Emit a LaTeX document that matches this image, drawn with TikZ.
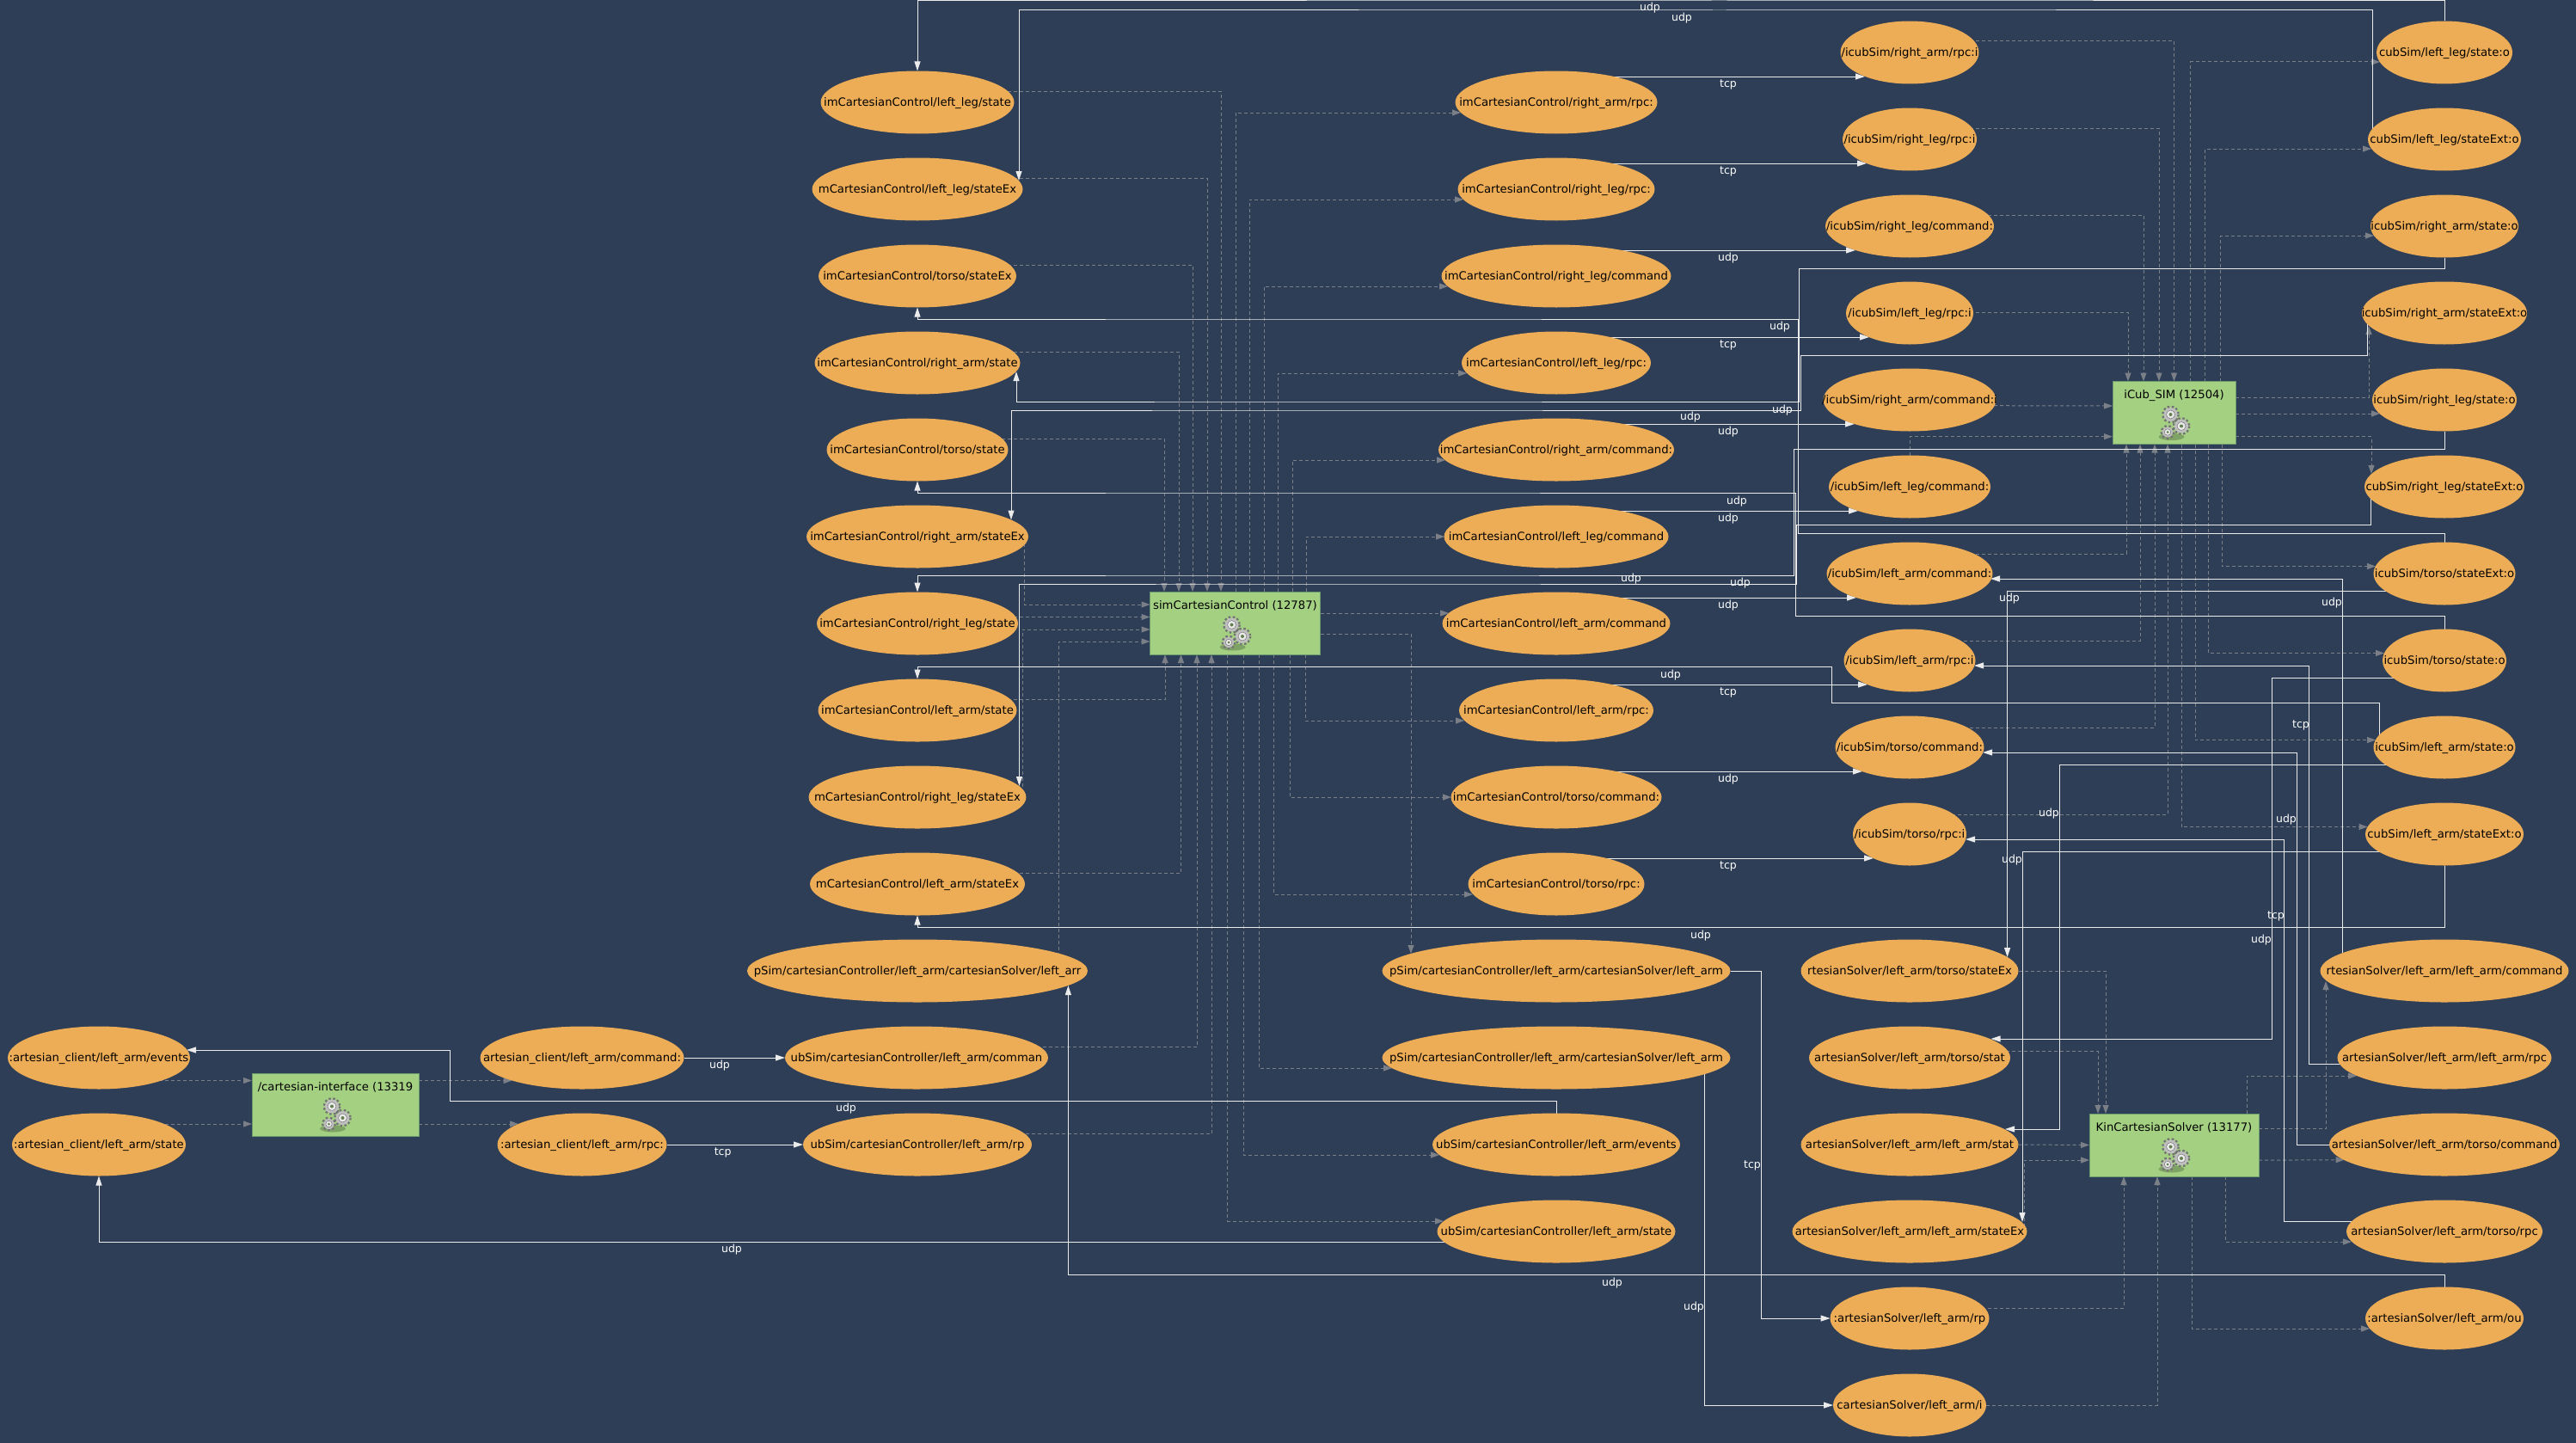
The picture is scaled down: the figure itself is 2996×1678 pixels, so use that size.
\documentclass[tikz,border=0pt]{standalone}
\usepackage{fontspec}
\setmainfont{DejaVu Sans}
\usetikzlibrary{arrows.meta,calc,backgrounds,shapes.geometric}
\definecolor{canvas}{HTML}{2D3E56}
\definecolor{portfill}{HTML}{EDAC56}
\definecolor{procfill}{HTML}{A4D082}
\definecolor{procline}{HTML}{6C9A70}
\definecolor{flowline}{HTML}{7A7F88}
\tikzset{
    gears/.pic={
        \fill[black,opacity=.22] (-3,28) ellipse (15 and 4);
        \foreach \gx/\gy/\gr in {-4/2/8,8.5/15.5/8,-7.5/22.5/6}{
            \draw[black!55,line width=3.6pt,dash pattern=on 2.3pt off 2.3pt] (\gx,\gy) circle (\gr+.6);
            \fill[black!25] (\gx,\gy) circle (\gr);
            \draw[black!60,fill=black!8] (\gx,\gy) circle (\gr*.62);
            \fill[procfill!60!black] (\gx,\gy) circle (\gr*.25);
        }
    },
}

\begin{document}
\begin{tikzpicture}[
    x=1pt, y=-1pt,
    port/.style={ellipse, fill=portfill, inner sep=0pt, outer sep=0pt, minimum height=73pt, text height=12pt, text depth=3pt, font=\fontsize{13.2}{15}\selectfont},
    proc/.style={rectangle, draw=procline, fill=procfill, line width=1pt, inner sep=0pt, outer sep=0pt, minimum height=73pt, text height=20pt, text depth=53pt, font=\fontsize{13.2}{15}\selectfont},
    flow/.style={-{Triangle[length=10pt,width=7pt]}, draw=flowline, line width=1pt, dash pattern=on 4pt off 3pt},
    link/.style={-{Triangle[length=11pt,width=7pt]}, draw=white!92!black, line width=1pt},
    proto/.style={text=white, inner sep=0pt, font=\fontsize{12.5}{14}\selectfont},
]
\useasboundingbox (0,0) rectangle (2996,1678);

% control ports, left column
\foreach \name/\w/\txt [count=\k from 0] in {
    ctlLLegSt/225/{imCartesianControl/left\_leg/state},
    ctlLLegEx/245/{mCartesianControl/left\_leg/stateEx},
    ctlTorsoEx/230/{imCartesianControl/torso/stateEx},
    ctlRArmSt/239/{imCartesianControl/right\_arm/state},
    ctlTorsoSt/211/{imCartesianControl/torso/state},
    ctlRArmEx/258/{imCartesianControl/right\_arm/stateEx},
    ctlRLegSt/234/{imCartesianControl/right\_leg/state},
    ctlLArmSt/231/{imCartesianControl/left\_arm/state},
    ctlRLegEx/253/{mCartesianControl/right\_leg/stateEx},
    ctlLArmEx/250/{mCartesianControl/left\_arm/stateEx}}{
    \node[port, minimum width=\w pt] (\name) at (1067,119+101*\k) {\makebox[0pt]{\txt}};
}
% control ports, right column
\foreach \name/\w/\txt [count=\k from 0] in {
    ctlRArmRpc/235/{imCartesianControl/right\_arm/rpc:},
    ctlRLegRpc/229/{imCartesianControl/right\_leg/rpc:},
    ctlRLegCmd/267/{imCartesianControl/right\_leg/command},
    ctlLLegRpc/220/{imCartesianControl/left\_leg/rpc:},
    ctlRArmCmd/274/{imCartesianControl/right\_arm/command:},
    ctlLLegCmd/261/{imCartesianControl/left\_leg/command},
    ctlLArmCmd/265/{imCartesianControl/left\_arm/command},
    ctlLArmRpc/226/{imCartesianControl/left\_arm/rpc:},
    ctlTorsoCmd/245/{imCartesianControl/torso/command:},
    ctlTorsoRpc/205/{imCartesianControl/torso/rpc:}}{
    \node[port, minimum width=\w pt] (\name) at (1810,119+101*\k) {\makebox[0pt]{\txt}};
}
% simulator inputs
\foreach \name/\w/\txt [count=\k from 0] in {
    simRArmRpc/161/{/icubSim/right\_arm/rpc:i},
    simRLegRpc/156/{/icubSim/right\_leg/rpc:i},
    simRLegCmd/196/{/icubSim/right\_leg/command:},
    simLLegRpc/148/{/icubSim/left\_leg/rpc:i},
    simRArmCmd/201/{/icubSim/right\_arm/command:i},
    simLLegCmd/188/{/icubSim/left\_leg/command:},
    simLArmCmd/193/{/icubSim/left\_arm/command:},
    simLArmRpc/153/{/icubSim/left\_arm/rpc:i},
    simTorsoCmd/173/{/icubSim/torso/command:},
    simTorsoRpc/132/{/icubSim/torso/rpc:i}}{
    \node[port, minimum width=\w pt] (\name) at (2221,61+101*\k) {\makebox[0pt]{\txt}};
}
% simulator outputs
\foreach \name/\w/\txt [count=\k from 0] in {
    simLLegSt/158/{cubSim/left\_leg/state:o},
    simLLegEx/178/{cubSim/left\_leg/stateExt:o},
    simRArmSt/172/{icubSim/right\_arm/state:o},
    simRArmEx/192/{icubSim/right\_arm/stateExt:o},
    simRLegSt/168/{icubSim/right\_leg/state:o},
    simRLegEx/186/{cubSim/right\_leg/stateExt:o},
    simTorsoEx/165/{icubSim/torso/stateExt:o},
    simTorsoSt/144/{icubSim/torso/state:o},
    simLArmSt/165/{icubSim/left\_arm/state:o},
    simLArmEx/184/{cubSim/left\_arm/stateExt:o}}{
    \node[port, minimum width=\w pt] (\name) at (2843,61+101*\k) {\makebox[0pt]{\txt}};
}
% solver ports
\foreach \name/\w/\txt [count=\k from 0] in {
    solTorsoEx/253/{rtesianSolver/left\_arm/torso/stateEx},
    solTorsoSt/234/{artesianSolver/left\_arm/torso/stat},
    solLArmSt/253/{artesianSolver/left\_arm/left\_arm/stat},
    solLArmEx/273/{artesianSolver/left\_arm/left\_arm/stateEx},
    solRpc/185/{:artesianSolver/left\_arm/rp},
    solIn/178/{cartesianSolver/left\_arm/i}}{
    \node[port, minimum width=\w pt] (\name) at (2221,1129+101*\k) {\makebox[0pt]{\txt}};
}
\foreach \name/\w/\txt [count=\k from 0] in {
    solLArmCmd/289/{rtesianSolver/left\_arm/left\_arm/command},
    solLArmRpc/249/{artesianSolver/left\_arm/left\_arm/rpc},
    solTorsoCmd/268/{artesianSolver/left\_arm/torso/command},
    solTorsoRpc/228/{artesianSolver/left\_arm/torso/rpc},
    solOut/184/{:artesianSolver/left\_arm/ou}}{
    \node[port, minimum width=\w pt] (\name) at (2843,1129+101*\k) {\makebox[0pt]{\txt}};
}
% cartesian controller and client ports
\node[port, minimum width=396pt] (cartSolIn) at (1067,1129) {\makebox[0pt]{pSim/cartesianController/left\_arm/cartesianSolver/left\_arr}};
\node[port, minimum width=306pt] (cartCmd) at (1066,1230) {\makebox[0pt]{ubSim/cartesianController/left\_arm/comman}};
\node[port, minimum width=266pt] (cartRpc) at (1067,1331) {\makebox[0pt]{ubSim/cartesianController/left\_arm/rp}};
\node[port, minimum width=405pt] (cartSolOutA) at (1810,1129) {\makebox[0pt]{pSim/cartesianController/left\_arm/cartesianSolver/left\_arm}};
\node[port, minimum width=405pt] (cartSolOutB) at (1810,1230) {\makebox[0pt]{pSim/cartesianController/left\_arm/cartesianSolver/left\_arm}};
\node[port, minimum width=288pt] (cartEvents) at (1810,1331) {\makebox[0pt]{ubSim/cartesianController/left\_arm/events}};
\node[port, minimum width=277pt] (cartState) at (1810,1432) {\makebox[0pt]{ubSim/cartesianController/left\_arm/state}};
\node[port, minimum width=212pt] (cliEvents) at (115,1230) {\makebox[0pt]{:artesian\_client/left\_arm/events}};
\node[port, minimum width=202pt] (cliState) at (115,1331) {\makebox[0pt]{:artesian\_client/left\_arm/state}};
\node[port, minimum width=237pt] (cliCmd) at (677,1230) {\makebox[0pt]{artesian\_client/left\_arm/command:}};
\node[port, minimum width=197pt] (cliRpc) at (677,1331) {\makebox[0pt]{:artesian\_client/left\_arm/rpc:}};

% processes
\node[proc, minimum width=198pt] (ctlBox) at (1436.5,724.5) {\makebox[0pt]{simCartesianControl (12787)}};
\node[proc, minimum width=143pt] (simBox) at (2528.5,480) {\makebox[0pt]{iCub\_SIM (12504)}};
\node[proc, minimum width=194pt] (cliBox) at (390,1284.5) {\makebox[0pt]{/cartesian-interface (13319}};
\node[proc, minimum width=197pt] (solBox) at (2528.5,1331.5) {\makebox[0pt]{KinCartesianSolver (13177)}};
\pic at (ctlBox.center) {gears};
\pic at (simBox.center) {gears};
\pic at (cliBox.center) {gears};
\pic at (solBox.center) {gears};

\begin{scope}[on background layer]
\fill[canvas] (0,0) rectangle (2996,1678);

% ports into the control process
\foreach \src/\bx in {ctlLLegSt/-16.5,ctlLLegEx/-32.5,ctlTorsoEx/-49.5,ctlRArmSt/-65.5,ctlTorsoSt/-82.5}
    \draw[flow] ($(\src)+(0,-13)$) -| ($(ctlBox.north)+(\bx,0)$);
\foreach \src/\bx in {ctlLArmSt/-81.5,ctlLArmEx/-63,cartCmd/-44.5,cartRpc/-27.5}
    \draw[flow] ($(\src)+(0,-12.5)$) -| ($(ctlBox.south)+(\bx,0)$);
\draw[flow] ($(ctlRArmEx)+(124,8)$) |- ($(ctlBox.west)+(0,-21.5)$);
\draw[flow] ($(ctlRLegSt)+(0,-7.5)$) -- ($(ctlBox.west)+(0,-7)$);
\draw[flow] ($(ctlRLegEx)+(122,-5)$) |- ($(ctlBox.west)+(0,7.5)$);
\draw[flow] ($(cartSolIn)+(164,-10)$) |- ($(ctlBox.west)+(0,21.5)$);

% ports out of the control process
\foreach \dst/\bx/\dx/\dy in {ctlRArmRpc/0.5/-111/12,ctlRLegRpc/16.5/-108/12,ctlRLegCmd/33.5/-126/12,ctlLLegRpc/49.5/-104/12,ctlRArmCmd/66.5/-129/12,ctlLLegCmd/82.5/-130/0}
    \draw[flow] ($(ctlBox.north)+(\bx,0)$) |- ($(\dst)+(\dx,\dy)$);
\foreach \dst/\bx/\dx/\dy in {ctlLArmRpc/81.5/-107/12,ctlTorsoCmd/63.5/-122/0,ctlTorsoRpc/45/-97/12,cartSolOutB/27.5/-191/12,cartEvents/9.5/-136/12,cartState/-9/-131/-12}
    \draw[flow] ($(ctlBox.south)+(\bx,0)$) |- ($(\dst)+(\dx,\dy)$);
\draw[flow] ($(ctlBox.east)+(0,-11.5)$) -- ($(ctlLArmCmd)+(-125,-12)$);
\draw[flow] ($(ctlBox.east)+(0,12.5)$) -| ($(cartSolOutA)+(-169,-20)$);

% simulator process
\foreach \src/\bx/\sy in {simRArmRpc/0/-13.5,simRLegRpc/-17.5/-13,simRLegCmd/-35.5/-13,simLLegRpc/-53.5/-1}
    \draw[flow] ($(\src)+(0,\sy)$) -| ($(simBox.north)+(\bx,0)$);
\foreach \src/\bx in {simLArmCmd/-55.5,simLArmRpc/-39.5,simTorsoCmd/-22.5,simTorsoRpc/-7.5}
    \draw[flow] ($(\src)+(0,-23)$) -| ($(simBox.south)+(\bx,0)$);
\draw[flow] ($(simRArmCmd)+(0,6.5)$) -- ($(simBox.west)+(0,-8)$);
\draw[flow] (simLLegCmd.north) |- ($(simBox.west)+(0,27.7)$);
\foreach \dst/\bx/\dx in {simLLegSt/18.5/-75,simLLegEx/36/-85,simRArmSt/53.5/-82}
    \draw[flow] ($(simBox.north)+(\bx,0)$) |- ($(\dst)+(\dx,11)$);
\foreach \dst/\bx/\dx in {simTorsoEx/55.5/-80,simTorsoSt/40/-70,simLArmSt/24.5/-80,simLArmEx/8.5/-89.5}
    \draw[flow] ($(simBox.south)+(\bx,0)$) |- ($(\dst)+(\dx,-8.5)$);
\draw[flow] ($(simBox.east)+(0,-18)$) -| ($(simRArmEx)+(-88,15)$);
\draw[flow] ($(simBox.east)+(0,1)$) -- ($(simRLegSt)+(-75,16)$);
\draw[flow] ($(simBox.east)+(0,27.7)$) -| ($(simRLegEx)+(-85,-15)$);

% client process
\draw[flow] ($(cliEvents)+(0,26.5)$) -- ($(cliBox.west)+(0,-28)$);
\draw[flow] ($(cliState)+(0,-24)$) -- ($(cliBox.west)+(0,22.5)$);
\draw[flow] ($(cliBox.east)+(0,-28)$) -- ($(cliCmd)+(-81.5,26.5)$);
\draw[flow] ($(cliBox.east)+(0,22.5)$) -- ($(cliRpc)+(-74,-24)$);

% solver process
\draw[flow] (solTorsoEx.east) -| ($(solBox.north)+(-79.5,0)$);
\draw[flow] ($(solTorsoSt)+(0,-7.5)$) -| ($(solBox.north)+(-88.5,0)$);
\draw[flow] (solLArmSt.east) -- (solBox.west);
\draw[flow] ($(solLArmEx)+(133,-5)$) |- ($(solBox.west)+(0,17.5)$);
\draw[flow] ($(solRpc)+(0,-12)$) -| ($(solBox.south)+(-58.5,0)$);
\draw[flow] (solIn.east) -| ($(solBox.south)+(-19.5,0)$);
\draw[flow] ($(solBox.north)+(84.5,0)$) |- ($(solLArmRpc)+(-102,21)$);
\draw[flow] ($(solBox.east)+(0,-18.7)$) -| ($(solLArmCmd)+(-138,12)$);
\draw[flow] ($(solBox.east)+(0,17.7)$) -- ($(solTorsoCmd)+(-116.5,17.7)$);
\draw[flow] ($(solBox.south)+(59.5,0)$) |- ($(solTorsoRpc)+(-108,12)$);
\draw[flow] ($(solBox.south)+(20.5,0)$) |- ($(solOut)+(-87,12)$);

% commands and rpc to the simulator
\foreach \src/\dst/\dx/\lab in {ctlRArmRpc/simRArmRpc/-52/tcp,ctlRLegRpc/simRLegRpc/-50/tcp,ctlRLegCmd/simRLegCmd/-63/udp,ctlLLegRpc/simLLegRpc/-47/tcp,ctlRArmCmd/simRArmCmd/-64/udp,ctlLLegCmd/simLLegCmd/-60/udp,ctlLArmCmd/simLArmCmd/-62/udp,ctlLArmRpc/simLArmRpc/-49/tcp,ctlTorsoCmd/simTorsoCmd/-55/udp,ctlTorsoRpc/simTorsoRpc/-42/tcp}
    \draw[link] ($(\src)+(0,-30)$) -- ($(\dst)+(\dx,28)$) node[proto] at ($(\dst)+(-211,37.5)$) {\lab};

% state back to the control ports
\draw[link] (simLLegSt.north) |- (2000,1) -| (ctlLLegSt.north) node[proto] at (1919,8.6) {udp};
\draw[link] ($(simLLegEx)+(-83.5,0)$) |- (2000,12) -| ($(ctlLLegEx)+(118,-10)$) node[proto] at (1956,20.7) {udp};
\draw[link] (simTorsoEx.north) |- (2091,620) |- (1500,371) -| (ctlTorsoEx.south) node[proto] at (2070,380) {udp};
\draw[link] (simRArmSt.south) |- (2092,312) |- (1500,467) -| ($(ctlRArmSt)+(115,10)$) node[proto] at (2073,476.6) {udp};
\draw[link] (simTorsoSt.north) |- (2088.5,716) |- (1500,573) -| (ctlTorsoSt.south) node[proto] at (2020,583) {udp};
\draw[link] ($(simRArmEx)+(-89.5,0)$) |- (2094,413) |- (1500,477) -| ($(ctlRArmEx)+(109,-19.5)$) node[proto] at (1966,485.5) {udp};
\draw[link] (simRLegSt.south) |- (2086,522) |- (1500,669) -| (ctlRLegSt.north) node[proto] at (1897,673) {udp};
\draw[link] ($(simRLegEx)+(-85.5,0)$) |- (2089,610) |- (1500,679) -| ($(ctlRLegEx)+(118.5,-13)$) node[proto] at (2024,678.5) {udp};
\draw[link] ($(simLArmSt)+(-76,0)$) |- (2130,817) |- (1500,775.5) -| (ctlLArmSt.north) node[proto] at (1943,785) {udp};
\draw[link] (simLArmEx.south) |- (1500,1078) -| (ctlLArmEx.south) node[proto] at (1978,1088) {udp};

% simulator state to the solver
\draw[link] ($(simTorsoEx)+(-40,20.4)$) -| ($(solTorsoEx)+(113.6,-16)$) node[proto] at (2337,696.4) {udp};
\draw[link] ($(simTorsoSt)+(-30,20)$) -| (2642,1000) |- ($(solTorsoSt)+(94.5,-22)$) node[proto] at (2630,1093) {udp};
\draw[link] ($(simLArmSt)+(-40,20.5)$) -| (2395,1100) |- ($(solLArmSt)+(111,-18)$) node[proto] at (2383,945.6) {udp};
\draw[link] ($(simLArmEx)+(-40,20.5)$) -| ($(solLArmEx)+(131,-11)$) node[proto] at (2340,1000.5) {udp};

% solver back to the simulator
\draw[link] ($(solLArmCmd)+(-119,0)$) |- ($(simLArmCmd)+(94,6)$) node[proto] at (2712,700.6) {udp};
\draw[link] ($(solLArmRpc)+(0,7)$) -| (2685.5,1000) |- ($(simLArmRpc)+(75,6)$) node[proto] at (2676,843) {tcp};
\draw[link] (solTorsoCmd.center) -| (2671,1000) |- ($(simTorsoCmd)+(85,6)$) node[proto] at (2659,953.4) {udp};
\draw[link] ($(solTorsoRpc)+(0,-12)$) -| (2656,1000) |- ($(simTorsoRpc)+(65,6)$) node[proto] at (2647,1065.5) {tcp};

% cartesian controller wiring
\draw[link] (cartSolOutA.east) -| (2048.5,1300) |- (solRpc.west) node[proto] at (2038,1355) {tcp};
\draw[link] ($(cartSolOutB)+(172.5,0)$) |- (solIn.west) node[proto] at (1970,1520) {udp};
\draw[link] (solOut.north) |- (2000,1482) -| ($(cartSolIn)+(175.4,17)$) node[proto] at (1875,1492) {udp};
\draw[link] ($(cartState)+(0,12)$) -| (cliState.south) node[proto] at (851,1452.6) {udp};
\draw[link] (cartEvents.north) |- (523,1280) |- ($(cliEvents)+(102,-9)$) node[proto] at (984,1289) {udp};
\draw[link] (cliCmd.east) -- (cartCmd.west) node[proto] at (837,1238.7) {udp};
\draw[link] (cliRpc.east) -- (cartRpc.west) node[proto] at (840.6,1340) {tcp};
\end{scope}
\end{tikzpicture}
\end{document}
